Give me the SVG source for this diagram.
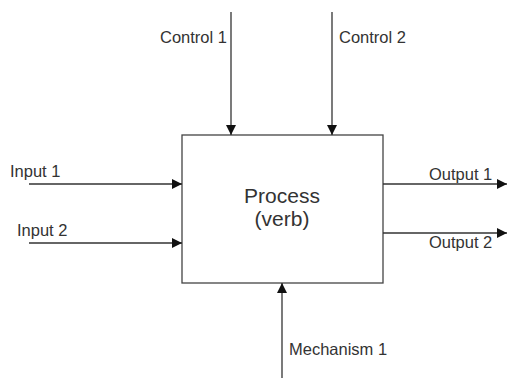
<svg xmlns="http://www.w3.org/2000/svg" width="508" height="379" viewBox="0 0 508 379">
<style>
.c{stroke:#333;stroke-width:1.3;fill:none}
.t{font-family:"Liberation Sans",Arial,sans-serif;font-size:16.5px;fill:#333}
.p{font-family:"Liberation Sans",Arial,sans-serif;font-size:21px;fill:#333;text-anchor:middle}
</style>
<defs>
<marker id="ah" viewBox="0 0 10 10" refX="10" refY="5" markerWidth="10" markerHeight="10" markerUnits="userSpaceOnUse" orient="auto">
<path d="M0,0 L10,5 L0,10 z" fill="#111"/>
</marker>
</defs>
<rect width="508" height="379" fill="#fff"/>
<g id="process">
<rect x="182" y="135" width="201" height="148" fill="#fff" stroke="#444" stroke-width="1.3"/>
<text class="p" x="282" y="203">Process</text>
<text class="p" x="282" y="226">(verb)</text>
</g>
<g id="connectors">
<line class="c" x1="231" y1="12" x2="231" y2="135" marker-end="url(#ah)"/>
<line class="c" x1="332" y1="12" x2="332" y2="135" marker-end="url(#ah)"/>
<line class="c" x1="29" y1="184" x2="182" y2="184" marker-end="url(#ah)"/>
<line class="c" x1="29" y1="243" x2="182" y2="243" marker-end="url(#ah)"/>
<line class="c" x1="383" y1="184" x2="507" y2="184" marker-end="url(#ah)"/>
<line class="c" x1="383" y1="233" x2="507" y2="233" marker-end="url(#ah)"/>
<line class="c" x1="282" y1="378" x2="282" y2="283" marker-end="url(#ah)"/>
</g>
<g id="labels">
<text class="t" x="160" y="43">Control 1</text>
<text class="t" x="339" y="43">Control 2</text>
<text class="t" x="10" y="177">Input 1</text>
<text class="t" x="17" y="236">Input 2</text>
<text class="t" x="429" y="180">Output 1</text>
<text class="t" x="429" y="248">Output 2</text>
<text class="t" x="289" y="355">Mechanism 1</text>
</g>
</svg>
